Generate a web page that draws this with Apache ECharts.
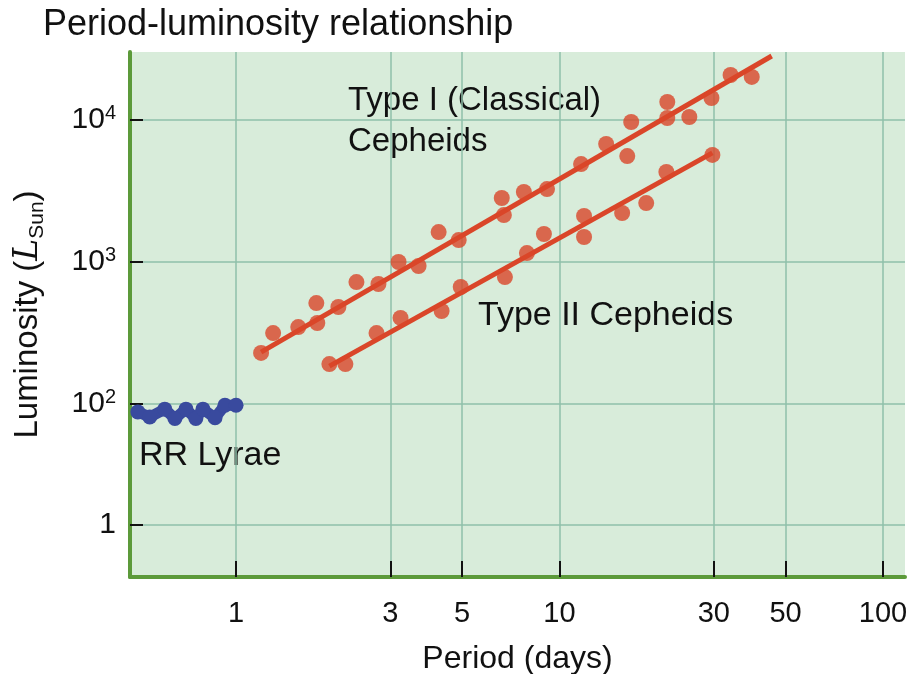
<!DOCTYPE html>
<html>
<head>
<meta charset="utf-8">
<script src="https://cdn.jsdelivr.net/npm/echarts@6/dist/echarts.min.js"></script>
<style>html,body{margin:0;padding:0;background:#fff;}#c{width:924px;height:674px;}</style>
</head>
<body>
<div id="c"></div>
<script>
// Period (days), Luminosity (L_Sun)
const typeIPeriod = [1.195,1.302,1.557,1.771,1.783,2.072,2.356,2.756,3.18,3.667,4.23,4.88,6.63,6.73,7.76,9.15,11.66,13.94,16.2,16.66,21.54,21.54,25.2,29.5,33.8,39.3];
const typeILum    = [229,316,348,514,372,482,722,700,1000,937,1626,1428,2825,2142,3113,3265,4898,6777,5572,9681,13390,10330,10500,14290,20750,20100];
const typeIFitPeriod = [1.195, 45.3];
const typeIFitLum    = [232, 28250];

const typeIIPeriod = [1.943,2.178,2.718,3.225,4.32,4.95,6.78,7.93,8.95,11.91,11.91,15.62,18.54,21.4,29.7];
const typeIILum    = [191,191,316,404,452,667,783,1156,1575,2110,1500,2213,2600,4303,5675];
const typeIIFitPeriod = [1.943, 29.7];
const typeIIFitLum    = [185, 5866];

const rrPeriod = [0.497,0.541,0.602,0.647,0.70,0.751,0.79,0.861,0.924,1.0];
const rrLum    = [88,81,92,79,92,79,92,80,98,98];

const xTicks = [1,3,5,10,30,50,100];
const yTicks = [14.06,100,1000,10000];
const yTickLabels = ['1','10{s|2}','10{s|3}','10{s|4}'];

const zip = (a,b) => a.map((v,i) => [v,b[i]]);
const FONT = 'Liberation Sans, Arial, Helvetica, sans-serif';
const RED = '#da4629';
const BLUE = '#394a9e';
const AXISGREEN = '#5c9a3a';
const GRID = '#8fc0aa';
const INK = '#111111';

const chart = echarts.init(document.getElementById('c'), null, {renderer:'canvas'});
chart.setOption({
  animation: false,
  backgroundColor: '#ffffff',
  textStyle: {fontFamily: FONT},
  title: {
    text: 'Period-luminosity relationship',
    left: 38, top: 2,
    textStyle: {fontFamily: FONT, fontSize: 36, fontWeight: 'normal', color: INK}
  },
  grid: {
    left: 130, top: 52, right: 19, bottom: 97,
    containLabel: false, outerBoundsMode: 'none',
    show: true, backgroundColor: '#d8ecda', borderWidth: 0
  },
  xAxis: {
    type: 'log', logBase: 10, min: 0.47, max: 117,
    name: 'Period (days)', nameLocation: 'middle', nameGap: 66,
    nameTextStyle: {fontFamily: FONT, fontSize: 32, color: INK},
    axisLine: {show: true, onZero: false, lineStyle: {color: AXISGREEN, width: 4}},
    axisTick: {show: true, inside: true, length: 16, customValues: xTicks, lineStyle: {color: INK, width: 2}},
    axisLabel: {customValues: xTicks, fontFamily: FONT, fontSize: 29, color: INK, margin: 22,
      formatter: v => String(Math.round(v))},
    splitLine: {show: true, lineStyle: {color: GRID, width: 1.5}},
    minorTick: {show: false}, minorSplitLine: {show: false}
  },
  yAxis: {
    type: 'log', logBase: 10, min: 6.05, max: 30130,
    name: '{a|Luminosity (}{i|L}{s|Sun}{a|)}', nameLocation: 'middle', nameRotate: 90, nameGap: 82,
    nameTextStyle: {
      fontFamily: FONT, fontSize: 33, color: INK,
      rich: {
        a: {fontFamily: FONT, fontSize: 33, color: INK, lineHeight: 40},
        i: {fontFamily: 'DejaVu Serif, serif', fontStyle: 'italic', fontSize: 33, color: INK, lineHeight: 40},
        s: {fontFamily: FONT, fontSize: 21, color: INK, lineHeight: 40, verticalAlign: 'bottom', padding: [14,0,0,0]}
      }
    },
    axisLine: {show: true, onZero: false, lineStyle: {color: AXISGREEN, width: 4}},
    axisTick: {show: true, inside: true, length: 13, customValues: yTicks, lineStyle: {color: INK, width: 2}},
    axisLabel: {
      customValues: yTicks, fontFamily: FONT, fontSize: 30, color: INK, margin: 14,
      formatter: v => {
        const e = Math.log10(v);
        let best = 0, d = 1e9;
        yTicks.forEach((t,i) => { const dd = Math.abs(Math.log10(t) - e); if (dd < d) {d = dd; best = i;} });
        return yTickLabels[best];
      },
      rich: {
        s: {fontFamily: FONT, fontSize: 20, color: INK, verticalAlign: 'top', padding: [0,0,14,0]}
      }
    },
    splitLine: {show: true, lineStyle: {color: GRID, width: 1.5}},
    minorTick: {show: false}, minorSplitLine: {show: false}
  },
  series: [
    {name: 'Type I fit', type: 'line', data: zip(typeIFitPeriod, typeIFitLum), symbol: 'none',
      lineStyle: {color: RED, width: 5}, z: 3},
    {name: 'Type I (Classical) Cepheids', type: 'scatter', data: zip(typeIPeriod, typeILum),
      symbolSize: 16, itemStyle: {color: RED}, z: 4},
    {name: 'Type II fit', type: 'line', data: zip(typeIIFitPeriod, typeIIFitLum), symbol: 'none',
      lineStyle: {color: RED, width: 5}, z: 3},
    {name: 'Type II Cepheids', type: 'scatter', data: zip(typeIIPeriod, typeIILum),
      symbolSize: 16, itemStyle: {color: RED}, z: 4},
    {name: 'RR Lyrae', type: 'line', data: zip(rrPeriod, rrLum), symbol: 'circle', symbolSize: 15,
      showAllSymbol: true, lineStyle: {color: BLUE, width: 11}, itemStyle: {color: BLUE}, z: 4}
  ],
  graphic: [
    {type: 'text', left: 348, top: 80, style: {text: 'Type I (Classical)\nCepheids', font: '33px ' + FONT, fill: INK, lineHeight: 41}},
    {type: 'text', left: 478, top: 299, style: {text: 'Type II Cepheids', font: '34px ' + FONT, fill: INK}},
    {type: 'text', left: 139, top: 439, style: {text: 'RR Lyrae', font: '34px ' + FONT, fill: INK}}
  ]
});
</script>
</body>
</html>
